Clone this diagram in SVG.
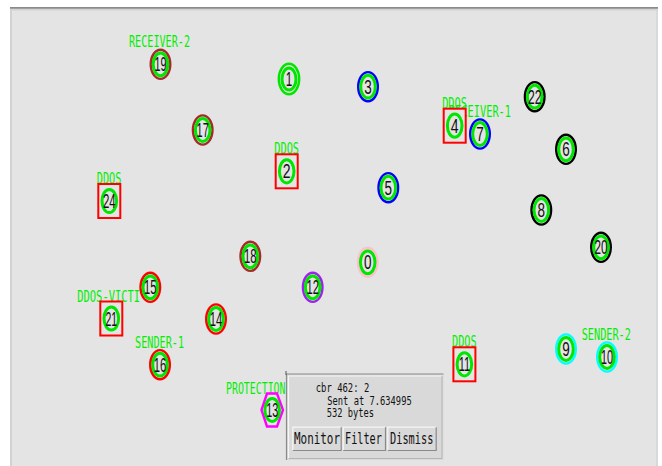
<svg xmlns="http://www.w3.org/2000/svg" width="662" height="466" viewBox="0 0 662 466">
<style>
.ring{fill:#e4e4e4;stroke-width:2.4}
.core{fill:#e4e4e4;stroke:#00e600;stroke-width:3}
.sq{fill:#e4e4e4;stroke:#ff0000;stroke-width:2}
.num{font-family:"Liberation Sans",Arial,sans-serif;font-size:19.5px;fill:#111;text-anchor:middle}
.lbl{font-family:"DejaVu Sans Mono","Liberation Mono",monospace;font-size:16px;fill:#00ee00}
.mid{text-anchor:middle}
.pop{font-family:"DejaVu Sans Mono","Liberation Mono",monospace;font-size:11.4px;fill:#111}
.btn{font-family:"DejaVu Sans Mono","Liberation Mono",monospace;font-size:15px;fill:#111;text-anchor:middle}
.brown{stroke:#a52a2a}.red{stroke:#ff0000}.blue{stroke:#0000ff}.black{stroke:#000}
.purple{stroke:#a020f0}.cyan{stroke:#00ffff}.pink{stroke:#ffc0cb}.green{stroke:#00e600}
.bface{fill:#d9d9d9;stroke:none}
.hi{stroke:#f6f6f6;stroke-width:1.2;fill:none}
.lo{stroke:#8a8a8a;stroke-width:1.2;fill:none}
</style>
<rect x="0" y="0" width="662" height="466" fill="#ffffff"/>
<rect x="10" y="7" width="648" height="459" fill="#e4e4e4"/>
<line x1="10" y1="7.8" x2="658" y2="7.8" stroke="#8a8a8a" stroke-width="1.8"/>
<line x1="10" y1="9.8" x2="658" y2="9.8" stroke="#d2d2d2" stroke-width="1.5"/>
<line x1="11" y1="9" x2="11" y2="466" stroke="#d2d2d2" stroke-width="2"/>
<line x1="657" y1="9" x2="657" y2="466" stroke="#d6d6d6" stroke-width="1.5"/>
<g id="connectors"/>
<g id="labels">
<text class="lbl mid" x="159.5" y="47.3" textLength="61" lengthAdjust="spacingAndGlyphs">RECEIVER-2</text>
<text class="lbl mid" x="286.7" y="154" textLength="24.7" lengthAdjust="spacingAndGlyphs">DDOS</text>
<text class="lbl mid" x="109" y="184" textLength="24.5" lengthAdjust="spacingAndGlyphs">DDOS</text>
<text class="lbl mid" x="480" y="117" textLength="62" lengthAdjust="spacingAndGlyphs">RECEIVER-1</text>
<text class="lbl mid" x="454.5" y="109" textLength="24.7" lengthAdjust="spacingAndGlyphs">DDOS</text>
<text class="lbl" x="77.3" y="302" textLength="62.7" lengthAdjust="spacingAndGlyphs">DDOS-VICTI</text>
<text class="lbl mid" x="159.5" y="348" textLength="49" lengthAdjust="spacingAndGlyphs">SENDER-1</text>
<text class="lbl" x="226" y="393.7" textLength="59.5" lengthAdjust="spacingAndGlyphs">PROTECTION</text>
<text class="lbl mid" x="464.3" y="347.3" textLength="24.5" lengthAdjust="spacingAndGlyphs">DDOS</text>
<text class="lbl mid" x="606.3" y="340.3" textLength="49.3" lengthAdjust="spacingAndGlyphs">SENDER-2</text>
</g>
<g id="node-0" transform="translate(367.7,262.3)"><ellipse class="ring pink" rx="9.8" ry="14.6"/><ellipse class="core" rx="7.3" ry="11.4"/><text class="num" y="7" textLength="7.5" lengthAdjust="spacingAndGlyphs">0</text></g>
<g id="node-1" transform="translate(289,79)"><ellipse class="ring green" rx="10.2" ry="15.2" stroke-width="1.6"/><ellipse class="core" rx="7" ry="11"/><text class="num" y="7" textLength="6.5" lengthAdjust="spacingAndGlyphs">1</text></g>
<g id="node-2" transform="translate(286.7,171.3)"><rect class="sq" x="-11" y="-17" width="22" height="34"/><ellipse class="core" rx="7.3" ry="11.6"/><text class="num" y="7" textLength="7.8" lengthAdjust="spacingAndGlyphs">2</text></g>
<g id="node-3" transform="translate(368,86.7)"><ellipse class="ring blue" rx="9.8" ry="14.6"/><ellipse class="core" rx="7.3" ry="11.4"/><text class="num" y="7" textLength="7.5" lengthAdjust="spacingAndGlyphs">3</text></g>
<g id="node-4" transform="translate(454.7,125.7)"><rect class="sq" x="-11" y="-17" width="22" height="34"/><ellipse class="core" rx="7.3" ry="11.6"/><text class="num" y="7" textLength="7.8" lengthAdjust="spacingAndGlyphs">4</text></g>
<g id="node-5" transform="translate(388.3,187.7)"><ellipse class="ring blue" rx="9.8" ry="14.6"/><ellipse class="core" rx="7.3" ry="11.4"/><text class="num" y="7" textLength="7.5" lengthAdjust="spacingAndGlyphs">5</text></g>
<g id="node-6" transform="translate(566,149.3)"><ellipse class="ring black" rx="9.8" ry="14.6"/><ellipse class="core" rx="7.3" ry="11.4"/><text class="num" y="7" textLength="7.5" lengthAdjust="spacingAndGlyphs">6</text></g>
<g id="node-7" transform="translate(480,134)"><ellipse class="ring blue" rx="9.8" ry="14.6"/><ellipse class="core" rx="7.3" ry="11.4"/><text class="num" y="7" textLength="7.5" lengthAdjust="spacingAndGlyphs">7</text></g>
<g id="node-8" transform="translate(541.3,210)"><ellipse class="ring black" rx="9.8" ry="14.6"/><ellipse class="core" rx="7.3" ry="11.4"/><text class="num" y="7" textLength="7.5" lengthAdjust="spacingAndGlyphs">8</text></g>
<g id="node-9" transform="translate(566,349)"><ellipse class="ring cyan" rx="9.8" ry="14.6"/><ellipse class="core" rx="7.3" ry="11.4"/><text class="num" y="7" textLength="7.5" lengthAdjust="spacingAndGlyphs">9</text></g>
<g id="node-10" transform="translate(607,357)"><ellipse class="ring cyan" rx="9.8" ry="14.6"/><ellipse class="core" rx="7.3" ry="11.4"/><text class="num" y="7" textLength="12" lengthAdjust="spacingAndGlyphs">10</text></g>
<g id="node-11" transform="translate(464.4,364.3)"><rect class="sq" x="-11" y="-17" width="22" height="34"/><ellipse class="core" rx="7.3" ry="11.6"/><text class="num" y="7" textLength="11.5" lengthAdjust="spacingAndGlyphs">11</text></g>
<g id="node-12" transform="translate(312.7,287.3)"><ellipse class="ring purple" rx="9.8" ry="14.6"/><ellipse class="core" rx="7.3" ry="11.4"/><text class="num" y="7" textLength="12.5" lengthAdjust="spacingAndGlyphs">12</text></g>
<g id="node-13" transform="translate(272.2,410)"><polygon points="-10.7,0 -5.2,-16.5 4.8,-16.5 10.8,0 4.8,16.5 -5.2,16.5" fill="#e4e4e4" stroke="#ff00ff" stroke-width="2.4"/><ellipse class="core" rx="7.3" ry="11.4"/><text class="num" y="7" textLength="12" lengthAdjust="spacingAndGlyphs">13</text></g>
<g id="node-14" transform="translate(216,319)"><ellipse class="ring red" rx="9.8" ry="14.6"/><ellipse class="core" rx="7.3" ry="11.4"/><text class="num" y="7" textLength="12.5" lengthAdjust="spacingAndGlyphs">14</text></g>
<g id="node-15" transform="translate(150.3,287.3)"><ellipse class="ring red" rx="9.8" ry="14.6"/><ellipse class="core" rx="7.3" ry="11.4"/><text class="num" y="7" textLength="12.5" lengthAdjust="spacingAndGlyphs">15</text></g>
<g id="node-16" transform="translate(160,364.7)"><ellipse class="ring red" rx="9.8" ry="14.6"/><ellipse class="core" rx="7.3" ry="11.4"/><text class="num" y="7" textLength="12.5" lengthAdjust="spacingAndGlyphs">16</text></g>
<g id="node-17" transform="translate(202.7,130)"><ellipse class="ring brown" rx="9.8" ry="14.6"/><ellipse class="core" rx="7.3" ry="11.4"/><text class="num" y="7" textLength="12.3" lengthAdjust="spacingAndGlyphs">17</text></g>
<g id="node-18" transform="translate(250.3,256.3)"><ellipse class="ring brown" rx="9.8" ry="14.6"/><ellipse class="core" rx="7.3" ry="11.4"/><text class="num" y="7" textLength="12.5" lengthAdjust="spacingAndGlyphs">18</text></g>
<g id="node-19" transform="translate(160.5,64.3)"><ellipse class="ring brown" rx="9.8" ry="14.6"/><ellipse class="core" rx="7.3" ry="11.4"/><text class="num" y="7" textLength="12" lengthAdjust="spacingAndGlyphs">19</text></g>
<g id="node-20" transform="translate(601,247.3)"><ellipse class="ring black" rx="9.8" ry="14.6"/><ellipse class="core" rx="7.3" ry="11.4"/><text class="num" y="7" textLength="13" lengthAdjust="spacingAndGlyphs">20</text></g>
<g id="node-21" transform="translate(111.3,318.5)"><rect class="sq" x="-11" y="-17" width="22" height="34"/><ellipse class="core" rx="7.3" ry="11.6"/><text class="num" y="7" textLength="11.7" lengthAdjust="spacingAndGlyphs">21</text></g>
<g id="node-22" transform="translate(534.7,96.7)"><ellipse class="ring black" rx="9.8" ry="14.6"/><ellipse class="core" rx="7.3" ry="11.4"/><text class="num" y="7" textLength="13.5" lengthAdjust="spacingAndGlyphs">22</text></g>
<g id="node-24" transform="translate(109.3,201)"><rect class="sq" x="-11" y="-17" width="22" height="34"/><ellipse class="core" rx="7.3" ry="11.6"/><text class="num" y="7" textLength="12.7" lengthAdjust="spacingAndGlyphs">24</text></g>
<g id="popup">
<rect x="286.5" y="374" width="157" height="86" fill="#d9d9d9"/>
<path d="M286.5 460 V374 H443.5" class="lo"/>
<path d="M288.5 459 V376 H442" class="hi"/>
<path d="M288.5 458.5 H442 V376" stroke="#b4b4b4" stroke-width="1" fill="none"/>
<line x1="286" y1="371" x2="286" y2="375" stroke="#555" stroke-width="1"/>
<text class="pop" x="315.7" y="392.3" textLength="53.6" lengthAdjust="spacingAndGlyphs">cbr 462: 2</text>
<text class="pop" x="327.3" y="405" textLength="84.4" lengthAdjust="spacingAndGlyphs">Sent at 7.634995</text>
<text class="pop" x="326.7" y="417.3" textLength="47.3" lengthAdjust="spacingAndGlyphs">532 bytes</text>
<g id="btn-monitor">
<rect class="bface" x="292.3" y="426.7" width="49.4" height="24.3"/>
<path class="hi" d="M292.8 450.5 V427.2 H341.2"/>
<path class="lo" d="M292.8 450.5 H341.2 V427.2"/>
<text class="btn" x="317" y="444.3" textLength="46" lengthAdjust="spacingAndGlyphs">Monitor</text>
</g>
<g id="btn-filter">
<rect class="bface" x="342.7" y="426.7" width="43.3" height="24.3"/>
<path class="hi" d="M343.2 450.5 V427.2 H385.5"/>
<path class="lo" d="M343.2 450.5 H385.5 V427.2"/>
<text class="btn" x="363.4" y="444.3" textLength="36.7" lengthAdjust="spacingAndGlyphs">Filter</text>
</g>
<g id="btn-dismiss">
<rect class="bface" x="387.3" y="426.7" width="49.4" height="24.3"/>
<path class="hi" d="M387.8 450.5 V427.2 H436.2"/>
<path class="lo" d="M387.8 450.5 H436.2 V427.2"/>
<text class="btn" x="411.7" y="444.3" textLength="43.3" lengthAdjust="spacingAndGlyphs">Dismiss</text>
</g>
</g>
</svg>
